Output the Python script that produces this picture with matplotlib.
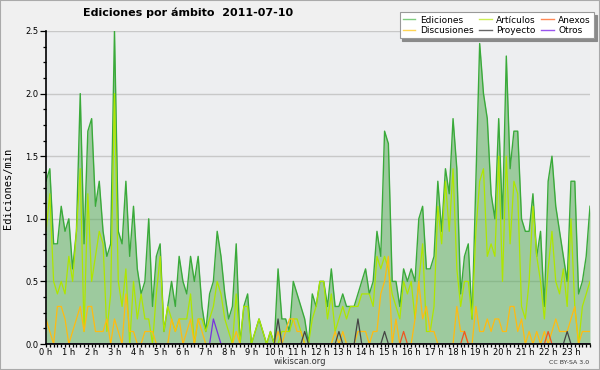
import matplotlib
matplotlib.use('Agg')
import matplotlib.pyplot as plt
from matplotlib.ticker import MultipleLocator
from matplotlib.patches import Rectangle
from matplotlib.lines import Line2D
import numpy as np

# ---- data (edits per minute, 10-minute steps, 2011-07-10) ----
hour_labels = [f"{h} h" for h in range(24)]

ediciones = [
    1.3, 1.4, 0.8, 0.8, 1.1, 0.9, 1.0, 0.6, 0.9, 2.0,
    0.8, 1.7, 1.8, 1.1, 1.3, 0.9, 0.7, 0.8, 2.5, 0.9,
    0.8, 1.3, 0.7, 1.1, 0.6, 0.4, 0.5, 1.0, 0.3, 0.7,
    0.8, 0.1, 0.3, 0.5, 0.3, 0.7, 0.5, 0.4, 0.7, 0.5,
    0.7, 0.3, 0.1, 0.4, 0.5, 0.9, 0.7, 0.4, 0.2, 0.3,
    0.8, 0.0, 0.3, 0.4, 0.0, 0.1, 0.2, 0.1, 0.0, 0.1,
    0.0, 0.6, 0.2, 0.2, 0.1, 0.5, 0.4, 0.3, 0.2, 0.0,
    0.4, 0.3, 0.5, 0.5, 0.3, 0.6, 0.3, 0.3, 0.4, 0.3,
    0.3, 0.3, 0.4, 0.5, 0.6, 0.4, 0.5, 0.9, 0.7, 1.7,
    1.6, 0.5, 0.5, 0.3, 0.6, 0.5, 0.6, 0.5, 1.0, 1.1,
    0.6, 0.6, 0.7, 1.3, 0.9, 1.4, 1.2, 1.8, 1.4, 0.4,
    0.7, 0.8, 0.2, 1.3, 2.4, 2.0, 1.8, 1.2, 1.0, 1.8,
    1.0, 2.3, 1.4, 1.7, 1.7, 1.0, 0.9, 0.9, 1.2, 0.7,
    0.9, 0.3, 1.3, 1.5, 1.1, 0.9, 0.7, 0.5, 1.3, 1.3,
    0.4, 0.5, 0.7, 1.1,
]

articulos = [
    0.9, 1.2, 0.5, 0.4, 0.5, 0.4, 0.7, 0.5, 0.9, 1.4,
    0.1, 1.2, 0.5, 0.7, 0.9, 0.8, 0.1, 0.4, 2.0, 0.5,
    0.3, 0.6, 0.0, 0.5, 0.2, 0.4, 0.2, 0.2, 0.0, 0.4,
    0.7, 0.1, 0.3, 0.2, 0.1, 0.2, 0.2, 0.2, 0.4, 0.0,
    0.2, 0.2, 0.1, 0.2, 0.3, 0.5, 0.4, 0.2, 0.1, 0.0,
    0.4, 0.0, 0.3, 0.3, 0.0, 0.1, 0.2, 0.1, 0.0, 0.1,
    0.0, 0.0, 0.1, 0.1, 0.1, 0.2, 0.2, 0.1, 0.0, 0.0,
    0.2, 0.3, 0.5, 0.5, 0.2, 0.4, 0.1, 0.2, 0.3, 0.2,
    0.3, 0.3, 0.3, 0.4, 0.4, 0.4, 0.3, 0.7, 0.6, 0.7,
    0.6, 0.4, 0.3, 0.2, 0.5, 0.4, 0.5, 0.2, 0.5, 0.8,
    0.1, 0.1, 0.3, 1.1, 0.8, 1.3, 0.9, 1.4, 0.6, 0.3,
    0.5, 0.5, 0.2, 0.9, 1.3, 1.4, 0.7, 0.8, 0.7, 1.5,
    0.5, 1.5, 0.8, 1.3, 1.2, 0.3, 0.2, 0.5, 1.1, 0.7,
    0.5, 0.2, 0.6, 0.9, 0.5, 0.4, 0.6, 0.3, 1.0, 0.3,
    0.0, 0.3, 0.4, 0.5,
]

discusiones = [
    0.2, 0.1, 0.0, 0.3, 0.3, 0.2, 0.0, 0.1, 0.2, 0.3,
    0.1, 0.3, 0.3, 0.1, 0.1, 0.1, 0.2, 0.0, 0.2, 0.1,
    0.0, 0.4, 0.1, 0.1, 0.0, 0.0, 0.1, 0.1, 0.1, 0.0,
    0.0, 0.0, 0.0, 0.2, 0.1, 0.2, 0.0, 0.1, 0.2, 0.0,
    0.2, 0.1, 0.0, 0.0, 0.0, 0.0, 0.0, 0.0, 0.0, 0.0,
    0.1, 0.0, 0.0, 0.0, 0.0, 0.0, 0.0, 0.0, 0.0, 0.0,
    0.0, 0.1, 0.0, 0.1, 0.2, 0.2, 0.1, 0.1, 0.0, 0.0,
    0.0, 0.0, 0.0, 0.0, 0.0, 0.0, 0.1, 0.0, 0.1, 0.0,
    0.0, 0.0, 0.1, 0.1, 0.1, 0.0, 0.1, 0.1, 0.4, 0.5,
    0.7, 0.0, 0.2, 0.0, 0.0, 0.0, 0.0, 0.2, 0.5, 0.2,
    0.3, 0.1, 0.1, 0.0, 0.0, 0.0, 0.0, 0.0, 0.3, 0.1,
    0.1, 0.0, 0.0, 0.3, 0.1, 0.1, 0.2, 0.1, 0.2, 0.2,
    0.1, 0.1, 0.3, 0.3, 0.1, 0.2, 0.0, 0.1, 0.0, 0.1,
    0.0, 0.1, 0.0, 0.1, 0.2, 0.1, 0.1, 0.1, 0.2, 0.3,
    0.0, 0.1, 0.1, 0.1,
]

# sparse series: {index: value}, all other steps are zero
proyecto_points = {61: 0.2, 68: 0.1, 77: 0.1, 82: 0.2, 89: 0.1, 137: 0.1}
anexos_points = {94: 0.1, 110: 0.1, 132: 0.1}
otros_points = {44: 0.2, 45: 0.1}

n = len(ediciones)
x = np.arange(n)


def expand(points):
    arr = np.zeros(n)
    for k, v in points.items():
        arr[k] = v
    return arr


proyecto = expand(proyecto_points)
anexos = expand(anexos_points)
otros = expand(otros_points)

C_ED = '#3aaa3a'
C_FILL = '#5cad5c'
C_ART = '#aee600'
C_DIS = '#ffbb11'
C_ANE = '#ee5522'
C_PRO = '#444444'
C_OTR = '#7733dd'

fig = plt.figure(figsize=(6, 3.7), dpi=100, facecolor='#f0f0f0')
ax = fig.add_axes([46 / 600, 26 / 370, 544 / 600, 313 / 370])
ax.set_facecolor('#edeef0')

ax.fill_between(x, ediciones, 0, color=C_FILL, alpha=0.55, lw=0, zorder=2)
ax.plot(x, ediciones, color=C_ED, lw=1.0, zorder=3)
ax.plot(x, articulos, color=C_ART, lw=0.9, zorder=4)
ax.plot(x, discusiones, color=C_DIS, lw=0.9, zorder=5)
ax.plot(x, anexos, color=C_ANE, lw=0.9, zorder=6)
ax.plot(x, proyecto, color=C_PRO, lw=0.9, zorder=6)
ax.plot(x, otros, color=C_OTR, lw=0.9, zorder=6)

ax.set_xlim(0, n - 1)
ax.set_ylim(0, 2.5)

ax.yaxis.set_major_locator(MultipleLocator(0.5))
ax.yaxis.set_minor_locator(MultipleLocator(0.125))
ax.set_yticklabels([f"{v:.1f}" for v in ax.get_yticks()])
ax.set_xticks(np.arange(0, n, 6))
ax.set_xticklabels(hour_labels)
ax.xaxis.set_minor_locator(MultipleLocator(1))

ax.yaxis.grid(True, which='major', color='#c8c8c8', lw=1.0, zorder=1)
ax.set_axisbelow(True)

for s in ('top', 'right'):
    ax.spines[s].set_visible(False)
for s in ('left', 'bottom'):
    ax.spines[s].set_color('black')
    ax.spines[s].set_linewidth(1.2)
    ax.spines[s].set_zorder(7)

ax.tick_params(axis='y', which='major', direction='out', length=4.5,
               width=0.9, labelsize=6, pad=1, colors='black')
ax.tick_params(axis='y', which='minor', direction='out', length=2.5,
               width=0.9)
ax.tick_params(axis='x', which='major', direction='out', length=2.4,
               width=0.9, labelsize=6, pad=0.2, colors='black')
ax.tick_params(axis='x', which='minor', direction='out', length=2.2,
               width=0.9)

handles = [
    Line2D([], [], color='#7fcc7f', lw=1),
    Line2D([], [], color='#ffd555', lw=1),
    Line2D([], [], color='#ccee55', lw=1),
    Line2D([], [], color='#666666', lw=1),
    Line2D([], [], color='#ff8855', lw=1),
    Line2D([], [], color='#9955ee', lw=1),
]
labels = ['Ediciones', 'Discusiones', 'Artículos', 'Proyecto', 'Anexos', 'Otros']
leg = fig.legend(handles, labels, ncol=3, loc='upper right',
                 bbox_to_anchor=(594 / 600, 1 - 12.5 / 370),
                 bbox_transform=fig.transFigure, fontsize=6.5,
                 frameon=True, fancybox=False, borderaxespad=0,
                 handlelength=1.4, handletextpad=0.5, columnspacing=0.6,
                 labelspacing=0.15, borderpad=0.35,
                 shadow={'color': '#8a8a8a', 'alpha': 1.0})
leg.get_frame().set_facecolor('white')
leg.get_frame().set_edgecolor('#999999')
leg.get_frame().set_linewidth(0.8)

fig.text(188 / 600, 1 - 13 / 370, "Ediciones por ámbito  2011-07-10",
         ha='center', va='center', fontsize=8, fontweight='bold')
fig.text(8 / 600, 1 - 188 / 370, "Ediciones/min", rotation=90,
         ha='center', va='center', fontsize=7.5, family='DejaVu Sans Mono')
fig.text(300 / 600, 1 - 362 / 370, "wikiscan.org", ha='center', va='center',
         fontsize=6, color='#333333')
fig.text(589 / 600, 1 - 362.5 / 370, "CC BY-SA 3.0", ha='right', va='center',
         fontsize=4.5, color='#333333')

fig.patches.append(Rectangle((0, 0), 1, 1, transform=fig.transFigure,
                             fill=False, edgecolor='#aaaaaa', lw=1.5))

fig.savefig('out.png', dpi=100, facecolor=fig.get_facecolor())
